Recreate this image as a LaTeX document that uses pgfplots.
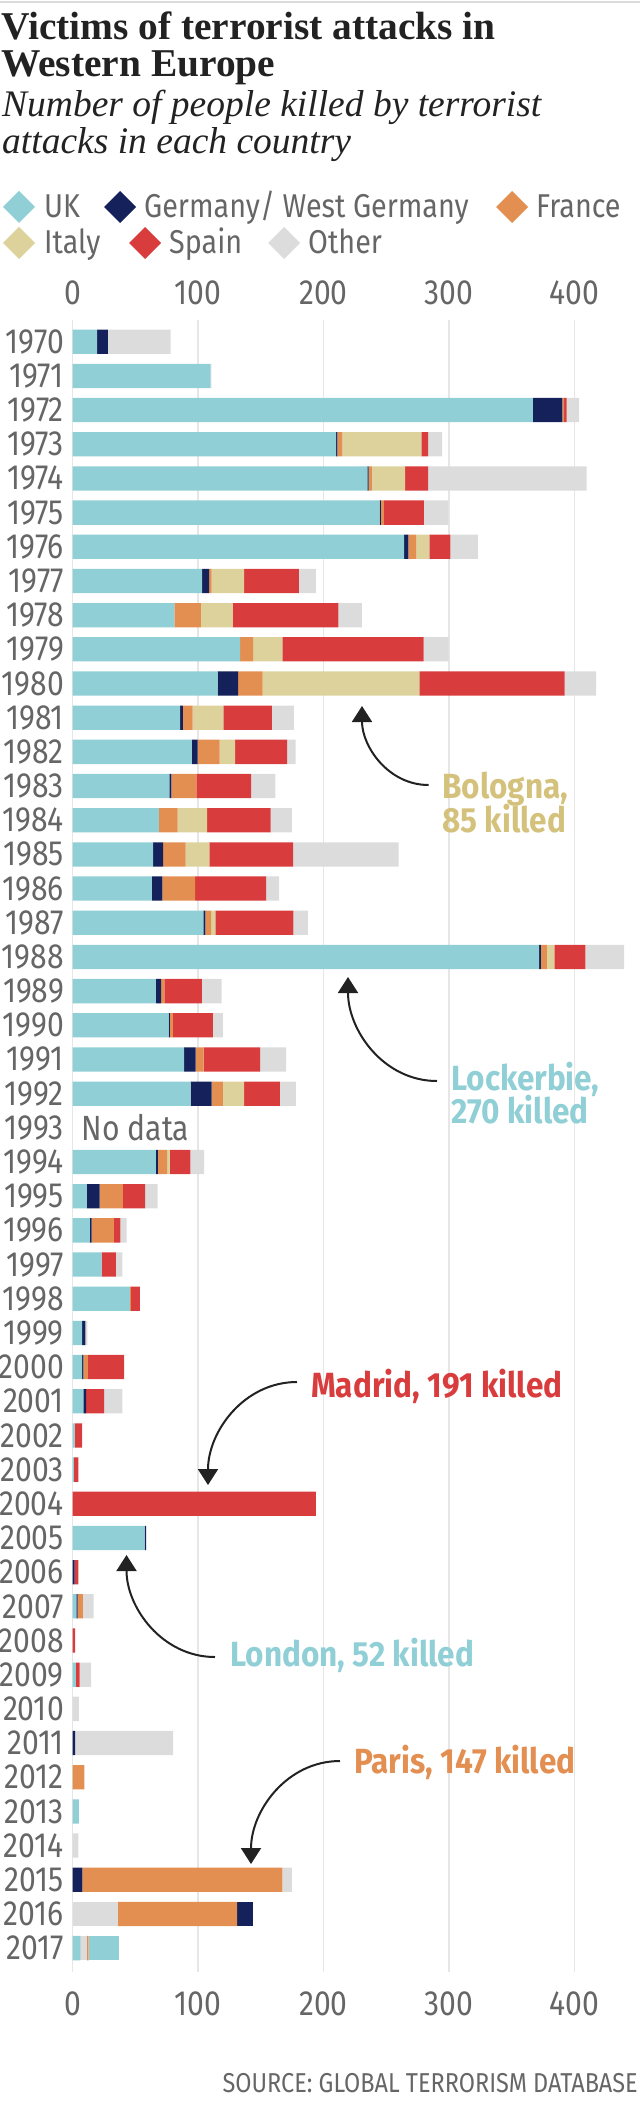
\documentclass[border=0pt]{standalone}
\usepackage{pgfplots}
\pgfplotsset{compat=1.18}
\usepackage{pgfplotstable}
\usepackage{fontspec}
\setmainfont{Liberation Serif}
\newfontfamily\cond[FakeStretch=0.86]{Fira Sans}
\newfontfamily\condl[FakeStretch=0.87]{Fira Sans}
\newfontfamily\conda[FakeStretch=0.90]{Fira Sans}
\usetikzlibrary{arrows.meta}
\definecolor{cUK}{HTML}{8FCFD5}
\definecolor{cGer}{HTML}{14215B}
\definecolor{cFra}{HTML}{E38F52}
\definecolor{cIta}{HTML}{DDD29B}
\definecolor{cSpa}{HTML}{D93C3C}
\definecolor{cOth}{HTML}{DCDCDC}
\definecolor{cText}{HTML}{666666}
\definecolor{cGrid}{HTML}{E6E6E6}
\definecolor{cBol}{HTML}{D4C27C}
\definecolor{cTitle}{HTML}{222222}
\definecolor{cArrow}{HTML}{222222}
\newcommand\tickfont{\cond\fontsize{35}{36}\selectfont}
\newcommand\legfont{\condl\fontsize{33}{34}\selectfont}
\newcommand\annfont{\conda\bfseries\fontsize{35}{36}\selectfont}

% OA = Other (stacked first), OB = Other (after UK), GB/UB = Germany/UK stacked last
\pgfplotstableread{
idx OA UK OB Ger Fra Ita Spa Oth GB UB
0 0 19.5 0 8.5 0 0 0 50 0 0
1 0 110 0 0 0 0 0 0.5 0 0
2 0 367 0 23.4 1.5 0 2 10 0 0
3 0 210 0 1 4 63 5.5 11 0 0
4 0 235 0 1 2.6 26.4 18.5 126.3 0 0
5 0 244.8 0 1 2.3 0 31.9 19.5 0 0
6 0 264.3 0 3.3 6.2 10.7 16.6 22.1 0 0
7 0 103.2 0 5.5 2 26 43.6 13.7 0 0
8 0 81 0 0 21.2 25.4 84.3 18.6 0 0
9 0 133.5 0 0 10.4 23.4 112.6 19.9 0 0
10 0 115.6 0 16.3 19.5 125 115.9 25 0 0
11 0 85.6 0 2.3 7.8 24.4 38.7 17.6 0 0
12 0 95 0 4.6 17.6 12.4 41.3 6.8 0 0
13 0 77.1 0 1.6 19.9 0 43.6 19.5 0 0
14 0 68.7 0 0 15 23.4 50.8 16.9 0 0
15 0 64.1 0 8.1 17.9 18.9 66.7 84.3 0 0
16 0 63.1 0 8.5 26 0 56.6 10.4 0 0
17 0 104.2 0 1.6 4.6 3.3 62.2 11.7 0 0
18 0 372 0 1.3 4.9 5.9 24.7 30.9 0 0
19 0 66.4 0 4.2 2.6 0 29.9 15.6 0 0
20 0 76.5 0 1 2.3 0 31.9 8.1 0 0
21 0 88.9 0 9.1 6.5 0 44.9 20.8 0 0
22 0 94.1 0 16.6 9.1 16.9 28.6 12.7 0 0
23 0 0 0 0 0 0 0 0 0 0
24 0 66.4 0 1.6 7.2 2.3 16.3 11.1 0 0
25 0 11.4 0 10.1 18.6 0 17.6 10.1 0 0
26 0 13.7 0 1.3 17.9 0 5.2 4.9 0 0
27 0 23.1 0 0 0 0 11.4 5.2 0 0
28 0 45.6 0 0 0.7 0 7.2 0 0 0
29 0 7.5 0 2.6 0 0 0 1.6 0 0
30 0 7.5 0 1 3.6 0 29 0 0 0
31 0 8.5 0 2.3 0 0 14.3 14.6 0 0
32 0 1.5 0 0 0 0 6 0 0 0
33 0 1 0 0 0 0 3.5 0 0 0
34 0 0 0 0 0 0 194 0 0 0
35 0 57.3 0 1.3 0 0 0 0 0 0
36 0 0 0 1.5 0 0 3 0 0 0
37 0 2.9 0 1 4.2 0 0 8.5 0 0
38 0 0 0 0 0 0 2 0 0 0
39 0 2.6 0 0 0 0 3 9.1 0 0
40 0 0 0 0 0 0 0 4.9 0 0
41 0 0 0 2 0 0 0 78 0 0
42 0 0 0 0 9.4 0 0 0 0 0
43 0 4.9 0 0 0 0 0 0 0 0
44 0 0 0 0 0 0 0 4.6 0 0
45 0 0 0 7.8 159.5 0 0 7.5 0 0
46 35.8 0 0 0 95.4 0 0 0 12.7 0
47 0 6.2 5.2 0 1.3 0 0 0 0 24.1
}\data

\begin{document}
\begin{tikzpicture}[x=1pt,y=1pt]
\path[use as bounding box] (0,0) rectangle (640,-2127);
\draw[cOth, line width=2pt] (0,-2) -- (640,-2);

% title & subtitle
\node[anchor=base west, inner sep=0, font=\fontsize{39.4}{40}\selectfont\bfseries, text=cTitle] at (1,-40) {Victims of terrorist attacks in};
\node[anchor=base west, inner sep=0, font=\fontsize{39.4}{40}\selectfont\bfseries, text=cTitle] at (1,-77) {Western Europe};
\node[anchor=base west, inner sep=0, font=\fontsize{37.5}{38}\selectfont\itshape, text=cTitle] at (2,-117) {Number of people killed by terrorist};
\node[anchor=base west, inner sep=0, font=\fontsize{37.5}{38}\selectfont\itshape, text=cTitle] at (2,-154) {attacks in each country};

% legend
\newcommand\legitem[5]{%
  \fill[#1] ({#2-16},{#3}) -- ({#2},{#3+16}) -- ({#2+16},{#3}) -- ({#2},{#3-16}) -- cycle;
  \node[anchor=base west, inner sep=0, font=\legfont, text=cText] at ({#4},{#3-11}) {#5};}
\legitem{cUK}{19}{-207}{44}{UK}
\legitem{cGer}{120}{-207}{144}{Germany/ West Germany}
\legitem{cFra}{512}{-207}{536}{France}
\legitem{cIta}{19}{-243}{44}{Italy}
\legitem{cSpa}{145}{-243}{169}{Spain}
\legitem{cOth}{284}{-243}{308}{Other}

\begin{axis}[
  at={(72.7pt,-1972pt)}, anchor=south west,
  scale only axis, width=564.3pt, height=1652pt,
  xmin=0, xmax=450, ymin=-0.635, ymax=47.70, y dir=reverse,
  xbar stacked, bar width=24.3pt,
  axis line style={draw=none}, tick style={draw=none},
  xmajorgrids, grid style={cGrid, line width=1.5pt},
  xtick={0,100,200,300,400}, ytick={0,...,47},
  yticklabel={\pgfmathparse{int(1970+\tick)}\pgfmathresult},
  tick label style={font=\tickfont, text=cText},
  /pgf/number format/assume math mode=true,
  xticklabel style={inner sep=0pt, yshift=-19pt},
  yticklabel style={inner sep=0pt, xshift=-8.7pt},
  clip=false,
  every axis plot/.append style={draw=none, line width=0pt},
]
\addplot[fill=cOth] table[x=OA,y=idx]{\data};
\addplot[fill=cUK] table[x=UK,y=idx]{\data};
\addplot[fill=cOth] table[x=OB,y=idx]{\data};
\addplot[fill=cGer] table[x=Ger,y=idx]{\data};
\addplot[fill=cFra] table[x=Fra,y=idx]{\data};
\addplot[fill=cIta] table[x=Ita,y=idx]{\data};
\addplot[fill=cSpa] table[x=Spa,y=idx]{\data};
\addplot[fill=cOth] table[x=Oth,y=idx]{\data};
\addplot[fill=cGer] table[x=GB,y=idx]{\data};
\addplot[fill=cUK] table[x=UB,y=idx]{\data};
\node[anchor=west, inner sep=0, font=\tickfont, text=cText] at (axis cs:7.1,23) {No data};
\end{axis}

\begin{axis}[
  at={(72.7pt,-1972pt)}, anchor=south west,
  scale only axis, width=564.3pt, height=1652pt,
  xmin=0, xmax=450, ymin=-0.635, ymax=47.70, y dir=reverse,
  axis line style={draw=none}, tick style={draw=none},
  xtick={0,100,200,300,400}, ytick=\empty,
  xticklabel pos=upper,
  tick label style={font=\tickfont, text=cText},
  /pgf/number format/assume math mode=true,
  xticklabel style={inner sep=0pt, yshift=15pt},
]
\end{axis}

% annotations
\tikzset{ann/.style={line width=2pt, draw=cArrow, -{Triangle[width=20pt,length=16pt]}}}
\draw[ann] (428.6,-785) to[out=180,in=-90] (362,-706);
\node[anchor=base west, inner sep=0, font=\annfont, text=cBol] at (442,-798) {Bologna,};
\node[anchor=base west, inner sep=0, font=\annfont, text=cBol] at (442,-832) {85 killed};
\draw[ann] (437,-1081) to[out=180,in=-90] (348,-977);
\node[anchor=base west, inner sep=0, font=\annfont, text=cUK] at (451,-1090) {Lockerbie,};
\node[anchor=base west, inner sep=0, font=\annfont, text=cUK] at (451,-1123) {270 killed};
\draw[ann] (297,-1382) to[out=180,in=90] (208,-1485);
\node[anchor=base west, inner sep=0, font=\annfont, text=cSpa] at (311,-1397) {Madrid, 191 killed};
\draw[ann] (215,-1657) to[out=180,in=-90] (126.5,-1555);
\node[anchor=base west, inner sep=0, font=\annfont, text=cUK] at (230,-1666) {London, 52 killed};
\draw[ann] (340,-1761) to[out=180,in=90] (251,-1864);
\node[anchor=base west, inner sep=0, font=\annfont, text=cFra] at (354,-1773) {Paris, 147 killed};

% source
\node[anchor=base east, inner sep=0, font=\cond\fontsize{27.3}{28}\selectfont, text=cText] at (638,-2092) {SOURCE: GLOBAL TERRORISM DATABASE};
\end{tikzpicture}
\end{document}
